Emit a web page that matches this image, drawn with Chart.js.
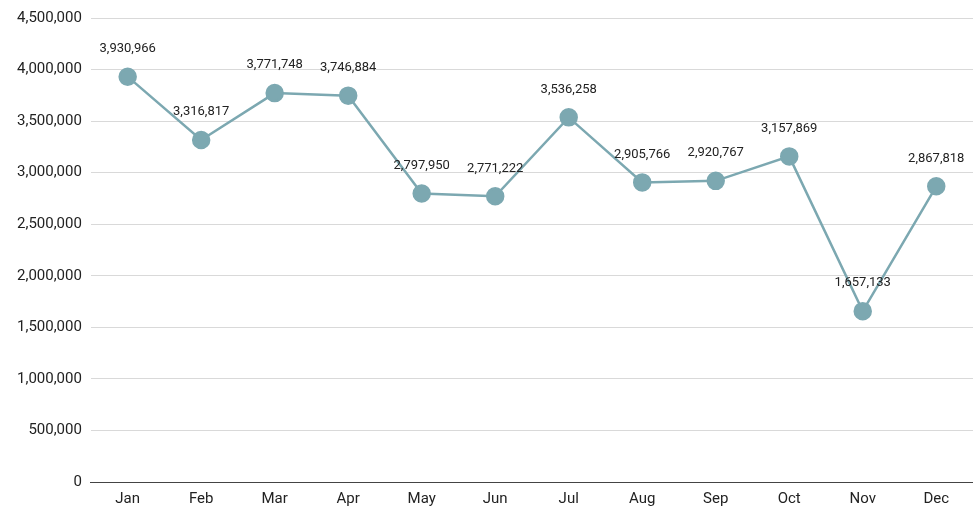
<!DOCTYPE html>
<html>
<head>
<meta charset="utf-8">
<script src="https://cdn.jsdelivr.net/npm/chart.js@4.4.1/dist/chart.umd.min.js"></script>
<style>
  body { margin: 0; background: #fff; }
  canvas { display: block; }
</style>
</head>
<body>
<canvas id="chart-area" width="973" height="509"></canvas>
<script>
// 月份與數值
var months = ['Jan', 'Feb', 'Mar', 'Apr', 'May', 'Jun', 'Jul', 'Aug', 'Sep', 'Oct', 'Nov', 'Dec'];
var totals = [3930966, 3316817, 3771748, 3746884, 2797950, 2771222, 3536258, 2905766, 2920767, 3157869, 1657133, 2867818];
var yTicks = [0, 500000, 1000000, 1500000, 2000000, 2500000, 3000000, 3500000, 4000000, 4500000];

// 在每個點上方寫出數值
var pointLabels = {
  id: 'pointLabels',
  afterDatasetsDraw: function(chart) {
    var c = chart.ctx;
    var meta = chart.getDatasetMeta(0);
    c.save();
    c.font = '13px Roboto, "Noto Sans", sans-serif';
    c.fillStyle = '#222';
    c.textAlign = 'center';
    c.textBaseline = 'middle';
    meta.data.forEach(function(pt, i) {
      c.fillText(totals[i].toLocaleString('en-US'), pt.x, pt.y - 28);
    });
    c.restore();
  }
};

var ctx = document.getElementById('chart-area');
var myChart = new Chart(ctx, {
  type: 'line',
  data: {
    labels: months,
    datasets: [{
      data: totals,
      borderColor: '#7ca8b1',
      backgroundColor: '#7ca8b1',
      borderWidth: 2.5,
      pointRadius: 8,
      pointHoverRadius: 8,
      tension: 0
    }]
  },
  options: {
    responsive: false,
    animation: false,
    layout: { autoPadding: false, padding: { top: 5, right: 0, left: 8, bottom: 1 } },
    plugins: {
      legend: { display: false },
      tooltip: { enabled: false }
    },
    scales: {
      x: {
        offset: true,
        grid: { display: false },
        border: { color: '#444', width: 1 },
        ticks: { color: '#222', font: { family: 'Roboto', size: 15 }, padding: 0 }
      },
      y: {
        min: 0,
        max: 4500000,
        afterBuildTicks: function(axis) {
          axis.ticks = yTicks.map(function(v) { return { value: v }; });
        },
        grid: { color: '#d9d9d9', drawTicks: false },
        border: { display: false },
        ticks: {
          color: '#222',
          font: { family: 'Roboto', size: 15 },
          padding: 9,
          callback: function(v) { return v.toLocaleString('en-US'); }
        }
      }
    }
  },
  plugins: [pointLabels]
});
</script>
</body>
</html>
